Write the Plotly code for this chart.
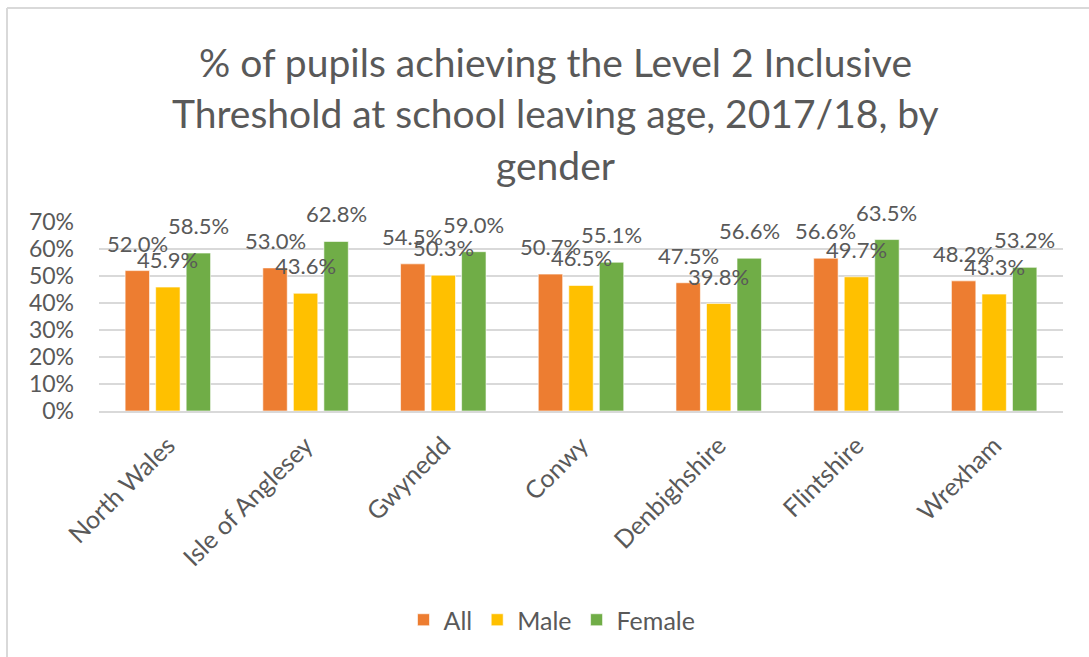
import plotly.graph_objects as go

# Local authority areas and the share of pupils reaching the Level 2 Inclusive threshold
areas = ["North Wales", "Isle of Anglesey", "Gwynedd", "Conwy",
         "Denbighshire", "Flintshire", "Wrexham"]
all_pupils = [52.0, 53.0, 54.5, 50.7, 47.5, 56.6, 48.2]
male = [45.9, 43.6, 50.3, 46.5, 39.8, 49.7, 43.3]
female = [58.5, 62.8, 59.0, 55.1, 56.6, 63.5, 53.2]

series_names = ["All", "Male", "Female"]
series_values = [all_pupils, male, female]
series_colors = ["#ED7D31", "#FFC000", "#70AD47"]

title_lines = [
    "% of pupils achieving the Level 2 Inclusive",
    "Threshold at school leaving age, 2017/18, by",
    "gender",
]

FONT = "Lato"
TEXT = "#595959"
GRID = "#D9D9D9"

W, H = 1089, 657
M_L, M_R, M_T, M_B = 99, 26, 222, 246
plot_h = H - M_T - M_B

fig = go.Figure()
for name, vals, col in zip(series_names, series_values, series_colors):
    fig.add_trace(go.Bar(
        x=areas, y=vals, name=name,
        marker=dict(color=col, line=dict(color="rgba(255,255,255,0.6)", width=1)),
    ))

# Value labels above each bar, placed on the category index with the bar's offset
BARGAP, GROUPGAP = 0.335, 0.2
slot = (1 - BARGAP) / len(series_names)
annotations = []
for si, vals in enumerate(series_values):
    off = (si - 1) * slot
    for ci, v in enumerate(vals):
        annotations.append(dict(
            x=ci + off, y=v, xref="x", yref="y",
            text=f"{v:.1f}%", showarrow=False,
            yanchor="bottom", yshift=12,
            font=dict(family=FONT, size=22, color=TEXT),
        ))


def px_x(p):
    return (p - M_L) / (W - M_L - M_R)


def px_y(p):
    return (H - M_B - p) / plot_h


# Three-line chart title, centred on the chart area
title_centres_px = [62, 113, 165]
for line, py in zip(title_lines, title_centres_px):
    annotations.append(dict(
        x=px_x(555), xref="paper", xanchor="center",
        y=px_y(py), yref="paper", yanchor="middle",
        text=line, showarrow=False,
        font=dict(family=FONT, size=39, color=TEXT),
    ))

# Chart-area frame (top and left edges)
shapes = [
    dict(type="line", xref="paper", yref="paper",
         x0=px_x(7), x1=px_x(W + 5), y0=px_y(8), y1=px_y(8),
         line=dict(color=GRID, width=2)),
    dict(type="line", xref="paper", yref="paper",
         x0=px_x(7), x1=px_x(7), y0=px_y(8), y1=px_y(H + 5),
         line=dict(color=GRID, width=2)),
]

fig.update_layout(
    width=W, height=H,
    margin=dict(l=M_L, r=M_R, t=M_T, b=M_B),
    paper_bgcolor="white", plot_bgcolor="white",
    barmode="group", bargap=BARGAP, bargroupgap=GROUPGAP,
    font=dict(family=FONT, color=TEXT),
    showlegend=True,
    legend=dict(
        orientation="h", x=px_x(552), xanchor="center",
        y=px_y(620), yanchor="middle",
        font=dict(family=FONT, size=25, color=TEXT),
        itemwidth=30, traceorder="normal",
    ),
    annotations=annotations,
    shapes=shapes,
)
fig.update_xaxes(
    tickangle=-45, tickfont=dict(family=FONT, size=25, color=TEXT),
    showline=True, linecolor=GRID, linewidth=2,
    showgrid=False, ticks="", ticklabelstandoff=8,
)
fig.update_yaxes(
    range=[0, 70], dtick=10, ticksuffix="%",
    tickfont=dict(family=FONT, size=23, color=TEXT),
    showgrid=True, gridcolor=GRID, gridwidth=2,
    zeroline=False, showline=False, ticks="",
    ticklabelstandoff=24,
)

fig.write_html("out.html")
